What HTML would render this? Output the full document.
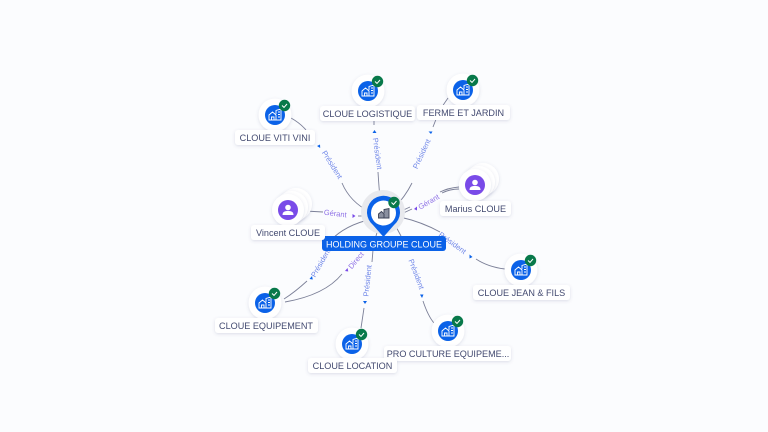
<!DOCTYPE html>
<html><head><meta charset="utf-8"><style>
html,body{margin:0;padding:0;background:#fbfcfe;width:768px;height:432px;overflow:hidden}
svg{display:block}
text{font-family:"Liberation Sans",sans-serif}
.n{font-size:9.1px;fill:#434a70;text-anchor:middle}
.e{font-size:7.5px;fill:#6f86e8;text-anchor:middle}
.g{font-size:7.5px;fill:#8f72e6;text-anchor:middle}
.l{fill:none;stroke:#7c8098;stroke-width:.9}
.p{fill:#0b62e8}.v{fill:#7a4be8}
.lb{fill:#fff;filter:url(#s)}
.c{fill:#fff;filter:url(#s)}
</style></head><body>
<svg width="768" height="432" viewBox="0 0 768 432" xmlns="http://www.w3.org/2000/svg">
<defs>
<filter id="s" x="-30%" y="-30%" width="160%" height="170%"><feDropShadow dx="0" dy="1" stdDeviation="1.5" flood-color="#5a6490" flood-opacity=".2"/></filter>
<g id="co">
<circle r="16.5" class="c"/><circle r="10" fill="#0b62e8"/>
<path d="M-6 5V0L-2.500-3 1 0V5H-6ZM-3.500 5V2H-1V5M1-1V-4.500L6-6V5H1M3-3H5M3-.5H5M3 2H5" fill="none" stroke="#fff" stroke-width=".9"/>
<circle cx="9.500" cy="-9.500" r="5.700" fill="#08794a"/>
<path d="M7-9.500 9-7.600 12-11" fill="none" stroke="#fff" stroke-width="1"/>
</g>
<g id="pe">
<circle cx="8" cy="-6" r="16" class="c"/><circle cx="4" cy="-3" r="16" class="c"/><circle r="16" class="c"/>
<circle r="10" fill="#7a4be8"/>
<circle cy="-2.500" r="2.800" fill="#fff"/><path d="M-5.500 5C-5.500 1.500-3 1-0 1S5.500 1.500 5.500 5Z" fill="#fff"/>
</g>
</defs>
<rect width="768" height="432" fill="#fbfcfe"/>

<!-- connectors -->
<path class="l" d="M291 118Q300 123 306 130"/>
<path class="l" d="M342 183Q350 202 370 212"/>
<path class="l" d="M374 121V125"/>
<path class="l" d="M378 172Q379 188 380 198"/>
<path class="l" d="M448 98Q439 110 433 127"/>
<path class="l" d="M412 183Q405 197 394 208"/>
<path class="l" d="M459 187Q448 188 440 192"/>
<path class="l" d="M459 189Q450 189 442 193"/>
<path class="l" d="M410 207L399 212M412 209L399 215"/>
<path class="l" d="M305 211L323 212"/>
<path class="l" d="M358 216L370 216"/>
<path class="l" d="M400 217Q422 222 440 232"/>
<path class="l" d="M476 259Q488 267 505 269"/>
<path class="l" d="M372 219Q345 225 330 241"/>
<path class="l" d="M307 281Q295 292 284 299"/>
<path class="l" d="M342 274Q325 295 285 302"/>
<path class="l" d="M373 250L372 262M380 222L376 236"/>
<path class="l" d="M364 308L361 328"/>
<path class="l" d="M394 223L401 236"/>
<path class="l" d="M423 301Q428 316 434 323"/>

<!-- edge labels -->
<text class="e" transform="translate(330 166) rotate(58)">Président</text>
<text class="e" transform="translate(375 154) rotate(82)">Président</text>
<text class="e" transform="translate(424 155) rotate(-65)">Président</text>
<text class="g" transform="translate(335 216) rotate(7)">Gérant</text>
<text class="g" transform="translate(430 204) rotate(-30)">Gérant</text>
<text class="e" transform="translate(451 245) rotate(36)">Président</text>
<text class="e" transform="translate(323 264) rotate(-60)">Président</text>
<text class="g" transform="translate(358 262) rotate(-50)">Direct</text>
<text class="e" transform="translate(370 281) rotate(-84)">Président</text>
<text class="e" transform="translate(414 275) rotate(69)">Président</text>

<!-- arrowheads -->
<path class="p" d="M317 146l3-1.500 .2 3.500Z"/>
<path class="p" d="M374.500 130l2 3h-4Z"/>
<path class="p" d="M431 134l-2.500-2.500 4 0Z"/>
<path class="v" d="M355.500 216l-3-2v4Z"/>
<path class="v" d="M414 209l3-2.500v4Z"/>
<path class="p" d="M472.500 257l-3-2.500v4Z"/>
<path class="p" d="M309.500 279l2.500-3 .8 3.500Z"/>
<path class="v" d="M345 271l2.500-3 .8 3.500Z"/>
<path class="p" d="M365 304l-2-3h4Z"/>
<path class="p" d="M422 298l-2-3.500h3.500Z"/>

<!-- center node -->
<circle cx="383" cy="212" r="22" fill="#e8e9ed"/>
<path d="M383.500 237 L373 225 A16.500 16.500 0 1 1 394 225 Z" fill="#0b62e8"/>
<circle cx="383.500" cy="213" r="12.500" fill="#fff"/>
<path d="M378.500 218V214L381.500 211.500 384 214V218ZM384 213V209.500L389 208.500V218H384" fill="#8a90a0" stroke="#3a4055" stroke-width=".9"/>
<circle cx="394" cy="202.500" r="5.700" fill="#08794a"/>
<path d="M391.500 202.500 393.500 204.500 396.500 201" fill="none" stroke="#fff" stroke-width="1"/>
<rect x="322" y="236" width="124" height="15" rx="3" fill="#0b62e8"/>
<text x="384" y="247.500" font-size="9" fill="#fff" text-anchor="middle">HOLDING GROUPE CLOUE</text>

<!-- nodes -->
<use href="#co" x="275" y="115"/>
<rect class="lb" x="235" y="130" width="80" height="15" rx="3"/>
<text class="n" x="275" y="141">CLOUE VITI VINI</text>

<use href="#co" x="368" y="91"/>
<rect class="lb" x="320" y="106" width="95" height="15" rx="3"/>
<text class="n" x="367.500" y="117">CLOUE LOGISTIQUE</text>

<use href="#co" x="463" y="90"/>
<rect class="lb" x="417" y="105" width="93" height="15" rx="3"/>
<text class="n" x="463.500" y="116">FERME ET JARDIN</text>

<use href="#pe" x="475" y="185"/>
<rect class="lb" x="440" y="201" width="71" height="15" rx="3"/>
<text class="n" x="475.500" y="212">Marius CLOUE</text>

<use href="#pe" x="288" y="210"/>
<rect class="lb" x="251" y="225" width="74" height="15" rx="3"/>
<text class="n" x="288" y="236">Vincent CLOUE</text>

<use href="#co" x="521" y="270"/>
<rect class="lb" x="473" y="285" width="97" height="15" rx="3"/>
<text class="n" x="521.500" y="296">CLOUE JEAN &amp; FILS</text>

<use href="#co" x="448" y="331"/>
<rect class="lb" x="384" y="346" width="127" height="15" rx="3"/>
<text class="n" x="448" y="357">PRO CULTURE EQUIPEME...</text>

<use href="#co" x="352" y="344"/>
<rect class="lb" x="308" y="358" width="89" height="15" rx="3"/>
<text class="n" x="352.500" y="369">CLOUE LOCATION</text>

<use href="#co" x="265" y="303"/>
<rect class="lb" x="215" y="318" width="103" height="15" rx="3"/>
<text class="n" x="266" y="329">CLOUE EQUIPEMENT</text>
</svg>
</body></html>
